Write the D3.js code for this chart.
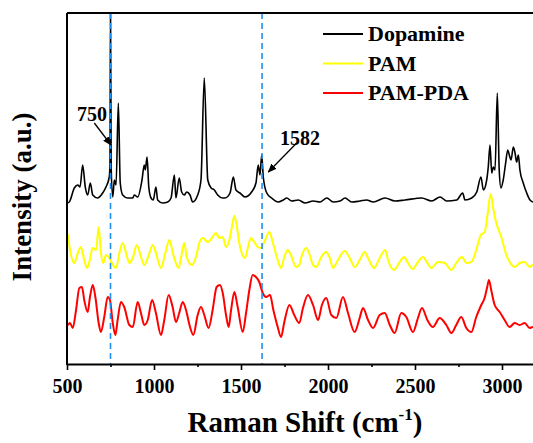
<!DOCTYPE html>
<html>
<head>
<meta charset="utf-8">
<script src="https://cdn.jsdelivr.net/npm/d3@7/dist/d3.min.js"></script>
<style>
body { margin: 0; background: #fff; }
</style>
</head>
<body>
<script>
// Data: [Raman shift (cm-1), intensity (a.u., stacked)]

const dopamine = [
 [500,161],[513,162],[542,176],[562,179],[575,177],[590,199],[605,177],[619,169],[634,181],[648,169],
 [676,166],[705,171],[724,177],[743,187],[747,200],[750,352],[754,196],[763,167],[772,184],[782,179],
 [795,261],[806,181],[820,169],[849,166],[878,166],[887,169],[906,167],[931,184],[944,199],[950,194],
 [960,207],[970,177],[983,166],[996,164],[1011,177],[1021,164],[1050,161],[1079,162],[1098,166],[1117,189],
 [1126,166],[1145,186],[1159,172],[1174,169],[1188,172],[1207,169],[1222,162],[1251,169],[1270,184],[1289,286],
 [1309,184],[1328,176],[1347,174],[1366,169],[1395,166],[1408,166],[1437,171],[1456,187],[1471,174],[1494,171],
 [1523,167],[1561,172],[1586,181],[1599,199],[1609,189],[1619,209],[1628,187],[1648,171],[1676,166],[1714,162],
 [1743,164],[1763,166],[1791,163],[1829,164],[1868,161],[1915,163],[1954,162],[1993,166],[2030,162],[2069,163],
 [2098,166],[2136,162],[2184,163],[2222,164],[2260,162],[2328,166],[2385,163],[2442,164],[2538,166],[2596,163],
 [2644,167],[2682,163],[2740,164],[2774,171],[2787,164],[2826,166],[2855,172],[2879,187],[2893,174],[2912,184],
 [2921,197],[2931,219],[2941,191],[2950,197],[2960,194],[2973,271],[2984,194],[2994,176],[3007,184],[3021,201],
 [3033,214],[3042,209],[3052,204],[3065,217],[3075,211],[3084,202],[3094,209],[3103,194],[3122,181],[3142,171],
 [3161,164],[3180,162],[3250,162]
];

const pam = [
 [500,131],[504,129],[517,114],[542,101],[562,111],[580,117],[599,104],[615,96],[628,102],[648,116],
 [667,114],[682,137],[695,111],[709,101],[724,109],[743,106],[763,99],[782,96],[801,111],[820,121],
 [839,111],[858,101],[878,106],[901,119],[925,107],[944,99],[970,109],[993,119],[1011,111],[1040,96],
 [1065,111],[1088,124],[1111,109],[1142,96],[1155,106],[1174,121],[1188,107],[1218,99],[1241,107],[1260,121],
 [1280,126],[1309,122],[1337,127],[1356,131],[1375,126],[1395,127],[1414,117],[1433,124],[1452,141],[1462,148],
 [1475,139],[1490,121],[1523,106],[1539,116],[1557,126],[1576,122],[1596,117],[1615,116],[1634,122],[1663,132],
 [1682,122],[1711,104],[1730,96],[1749,107],[1768,114],[1787,109],[1816,97],[1835,99],[1847,107],[1875,116],
 [1895,109],[1914,99],[1933,97],[1961,107],[1990,112],[2010,106],[2029,96],[2057,104],[2096,113],[2125,106],
 [2153,97],[2182,104],[2211,112],[2230,106],[2264,96],[2297,106],[2329,114],[2345,104],[2379,94],[2412,102],
 [2437,107],[2460,101],[2488,95],[2517,102],[2546,107],[2571,101],[2594,96],[2632,102],[2671,101],[2709,94],
 [2737,101],[2770,107],[2795,101],[2824,102],[2852,114],[2878,129],[2901,132],[2915,147],[2935,170],[2948,157],
 [2967,141],[2996,127],[3025,109],[3044,102],[3073,97],[3102,101],[3130,102],[3159,97],[3178,99],[3250,99]
];

const pamPda = [
 [500,40],[504,39],[517,41],[533,36],[552,54],[571,76],[586,77],[599,64],[619,52],[632,67],
 [648,79],[663,67],[682,41],[695,32],[714,47],[734,67],[747,64],[763,41],[778,29],[791,44],
 [810,62],[829,57],[858,39],[878,37],[906,62],[925,51],[944,39],[964,44],[989,64],[1011,51],
 [1040,29],[1059,44],[1084,69],[1107,57],[1126,42],[1145,51],[1165,62],[1184,54],[1207,37],[1226,29],
 [1251,49],[1270,57],[1289,49],[1314,36],[1337,54],[1360,77],[1379,79],[1395,71],[1414,49],[1429,37],
 [1443,54],[1462,72],[1481,57],[1510,32],[1529,51],[1548,74],[1567,89],[1586,87],[1605,82],[1625,71],
 [1644,67],[1667,69],[1686,54],[1711,37],[1730,27],[1749,42],[1778,59],[1806,49],[1835,41],[1856,56],
 [1885,69],[1914,59],[1943,44],[1965,59],[1990,66],[2019,49],[2048,46],[2086,67],[2115,51],[2153,32],
 [2182,46],[2201,56],[2230,44],[2259,36],[2297,49],[2326,51],[2355,39],[2383,31],[2421,51],[2450,47],
 [2488,32],[2517,46],[2540,56],[2571,44],[2603,37],[2642,46],[2680,39],[2709,31],[2737,39],[2766,47],
 [2795,36],[2824,32],[2852,47],[2881,59],[2900,66],[2915,77],[2925,84],[2938,74],[2958,59],[2987,52],
 [3015,44],[3044,37],[3073,41],[3102,39],[3130,41],[3159,36],[3178,37],[3250,37]
];

const seriesNames = ["Dopamine", "PAM", "PAM-PDA"];
const seriesColors = ["#000000", "#ffff00", "#ff0000"];
const majorTicks = [500, 1000, 1500, 2000, 2500, 3000];
const minorTicks = [750, 1250, 1750, 2250, 2750, 3250];
const markedShifts = [750, 1621];

const fontFamily = '"Liberation Serif", "Times New Roman", serif';

// Set Dimensions

const xSize = 533; const ySize = 443;
const plotLeft = 67, plotTop = 13, plotBottom = 364;

const x = d3.scaleLinear().domain([500, 3250]).range([plotLeft, plotLeft + 2750 * 0.174]);
const y = d3.scaleLinear().domain([0, 351]).range([plotBottom, plotTop]);

const svg = d3.select("body").append("svg")
 .attr("width", xSize)
 .attr("height", ySize)
 .attr("font-family", fontFamily);

svg.append("clipPath").attr("id", "plot")
 .append("rect").attr("x", plotLeft).attr("y", plotTop)
 .attr("width", x.range()[1] - plotLeft).attr("height", plotBottom - plotTop);

// Spectra

const line = d3.line().x(d => x(d[0])).y(d => y(d[1])).curve(d3.curveMonotoneX);
[dopamine, pam, pamPda].forEach((data, i) => {
  svg.append("path")
   .datum(data)
   .attr("clip-path", "url(#plot)")
   .attr("fill", "none")
   .attr("stroke", seriesColors[i])
   .attr("stroke-width", i == 0 ? 1.6 : 2)
   .attr("stroke-linejoin", "round")
   .attr("d", line);
});

// Dashed markers

markedShifts.forEach(s => {
  svg.append("line")
   .attr("x1", x(s)).attr("x2", x(s))
   .attr("y1", plotTop).attr("y2", plotBottom)
   .attr("stroke", "#1e8ff0")
   .attr("stroke-width", 1.6)
   .attr("stroke-dasharray", "6,4");
});

// Axes

const axisB = svg.append("g")
 .attr("transform", `translate(0,${plotBottom})`)
 .call(d3.axisBottom(x).tickValues(majorTicks).tickFormat(d3.format("d"))
   .tickSize(6).tickPadding(9).tickSizeOuter(0))
 .attr("font-family", fontFamily)
 .attr("font-size", 20)
 .attr("font-weight", "bold");
axisB.selectAll("text").attr("fill", "#000");

svg.append("g")
 .attr("transform", `translate(0,${plotBottom})`)
 .call(d3.axisBottom(x).tickValues(minorTicks).tickSize(3).tickFormat("").tickSizeOuter(0))
 .select(".domain").remove();

svg.selectAll(".tick line").attr("stroke-width", 1.6);
svg.selectAll(".domain").attr("stroke-width", 2);

svg.append("line").attr("x1", plotLeft).attr("x2", plotLeft).attr("y1", plotTop).attr("y2", plotBottom + 1)
 .attr("stroke", "#000").attr("stroke-width", 2);
svg.append("line").attr("x1", plotLeft).attr("x2", xSize).attr("y1", plotTop).attr("y2", plotTop)
 .attr("stroke", "#000").attr("stroke-width", 2);

// Axis titles

const xt = svg.append("text")
 .attr("x", 305).attr("y", 432)
 .attr("text-anchor", "middle")
 .attr("font-weight", "bold")
 .attr("font-size", 29)
 .text("Raman Shift (cm");
xt.append("tspan").attr("dy", -12).attr("font-size", 17).text("-1");
xt.append("tspan").attr("dy", 12).text(")");

svg.append("text")
 .attr("transform", "translate(31,197) rotate(-90)")
 .attr("text-anchor", "middle")
 .attr("font-weight", "bold")
 .attr("font-size", 27)
 .text("Intensity (a.u.)");

// Legend

seriesNames.forEach((name, i) => {
  const ly = 34 + i * 29.5;
  svg.append("line")
   .attr("x1", 323).attr("x2", 363).attr("y1", ly).attr("y2", ly)
   .attr("stroke", seriesColors[i]).attr("stroke-width", 1.8);
  svg.append("text")
   .attr("x", 368).attr("y", ly + 7)
   .attr("font-weight", "bold")
   .attr("font-size", 22)
   .text(name);
});

// Peak annotations

const notes = [
  {label: "750", tx: 557, ty: 243, from: [657, 241], to: [753, 219]},
  {label: "1582", tx: 1724, ty: 219, from: [1820, 221], to: [1657, 192]}
];

svg.append("defs").append("marker")
 .attr("id", "head").attr("viewBox", "0 0 10 10")
 .attr("refX", 9).attr("refY", 5)
 .attr("markerWidth", 7).attr("markerHeight", 7)
 .attr("orient", "auto")
 .append("path").attr("d", "M0,1 L10,5 L0,9 Z").attr("fill", "#000");

notes.forEach(n => {
  svg.append("text")
   .attr("x", x(n.tx)).attr("y", y(n.ty))
   .attr("font-weight", "bold")
   .attr("font-size", 20)
   .text(n.label);
  svg.append("line")
   .attr("x1", x(n.from[0])).attr("y1", y(n.from[1]))
   .attr("x2", x(n.to[0])).attr("y2", y(n.to[1]))
   .attr("stroke", "#000").attr("stroke-width", 1.3)
   .attr("marker-end", "url(#head)");
});
</script>
</body>
</html>
